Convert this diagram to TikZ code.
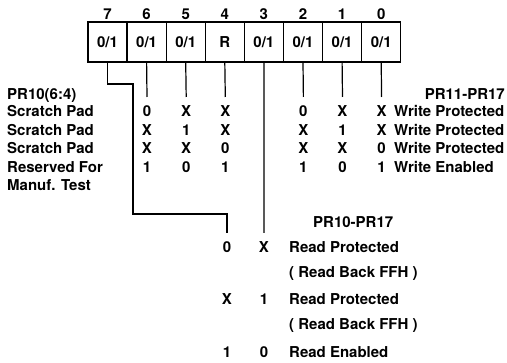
\documentclass[tikz,border=0pt]{standalone}
\usepackage{fontspec}
\setmainfont{TeX Gyre Heros}
\usetikzlibrary{positioning}
\tikzset{
  cell/.style={rectangle, draw, line width=1.3pt, minimum width=39.1pt, minimum height=40pt,
               inner sep=0pt, outer sep=0pt, font=\bfseries\fontsize{15}{17}\selectfont,
               text height=10.8pt, text depth=0pt},
  txt/.style={inner sep=0pt, font=\bfseries\fontsize{15}{17}\selectfont,
              text height=10.8pt, text depth=0pt},
  lbl/.style={txt, anchor=west},
  wire/.style={line width=1.2pt},
}

\begin{document}
\begin{tikzpicture}[x=1pt, y=-1pt]
\useasboundingbox (0,0) rectangle (507,363);
% register cells
\node[cell] (c7) at (107.5,42) {0/1};
\node[cell, right=0pt of c7] (c6) {0/1};
\node[cell, right=0pt of c6] (c5) {0/1};
\node[cell, right=0pt of c5] (c4) {R};
\node[cell, right=0pt of c4] (c3) {0/1};
\node[cell, right=0pt of c3] (c2) {0/1};
\node[cell, right=0pt of c2] (c1) {0/1};
\node[cell, right=0pt of c1] (c0) {0/1};
% bit numbers
\node[txt, above=2.5pt of c7] (n7) {7};
\node[txt, above=2.5pt of c6] (n6) {6};
\node[txt, above=2.5pt of c5] (n5) {5};
\node[txt, above=2.5pt of c4] (n4) {4};
\node[txt, above=2.5pt of c3] (n3) {3};
\node[txt, above=2.5pt of c2] (n2) {2};
\node[txt, above=2.5pt of c1] (n1) {1};
\node[txt, above=2.5pt of c0] (n0) {0};

% wire ends
\coordinate (k7a) at (133,84);
\coordinate (k7b) at (133,214);
\coordinate (e7) at (227,233);
\coordinate (e3) at (264,233);
\coordinate (e6) at (147,97);
\coordinate (e5) at (186.2,97);
\coordinate (e4) at (225.3,97);
\coordinate (e2) at (303.4,97);
\coordinate (e1) at (342.5,97);
\coordinate (e0) at (381.6,97);
\draw[wire] (c7.south) |- (k7a) -- (k7b) -| (e7);
\draw[wire] (c6.south) -- (e6);
\draw[wire] (c5.south) -- (e5);
\draw[wire] (c4.south) -- (e4);
\draw[wire] (c3.south) -- (e3);
\draw[wire] (c2.south) -- (e2);
\draw[wire] (c1.south) -- (e1);
\draw[wire] (c0.south) -- (e0);

% PR10(6:4) table
\node[lbl] (h1) at (7,94) {PR10(6:4)};
\node[lbl] (l1) at (7,111.5) {Scratch Pad};
\node[lbl] (l2) at (7,130) {Scratch Pad};
\node[lbl] (l3) at (7,148.5) {Scratch Pad};
\node[lbl] (l4) at (7,167) {Reserved For};
\node[lbl] (l5) at (7,185.5) {Manuf. Test};
\node[txt] (v61) at (147,111.5) {0};
\node[txt] (v51) at (186.2,111.5) {X};
\node[txt] (v41) at (225.3,111.5) {X};
\node[txt] (v62) at (147,130) {X};
\node[txt] (v52) at (186.2,130) {1};
\node[txt] (v42) at (225.3,130) {X};
\node[txt] (v63) at (147,148.5) {X};
\node[txt] (v53) at (186.2,148.5) {X};
\node[txt] (v43) at (225.3,148.5) {0};
\node[txt] (v64) at (147,167) {1};
\node[txt] (v54) at (186.2,167) {0};
\node[txt] (v44) at (225.3,167) {1};

% PR11-PR17 table
\node[txt, anchor=east] (h2) at (505,94) {PR11-PR17};
\node[txt] (v21) at (303.4,111.5) {0};
\node[txt] (v11) at (342.5,111.5) {X};
\node[txt] (v01) at (381.6,111.5) {X};
\node[txt] (v22) at (303.4,130) {X};
\node[txt] (v12) at (342.5,130) {1};
\node[txt] (v02) at (381.6,130) {X};
\node[txt] (v23) at (303.4,148.5) {X};
\node[txt] (v13) at (342.5,148.5) {X};
\node[txt] (v03) at (381.6,148.5) {0};
\node[txt] (v24) at (303.4,167) {1};
\node[txt] (v14) at (342.5,167) {0};
\node[txt] (v04) at (381.6,167) {1};
\node[lbl] (w1) at (394,111.5) {Write Protected};
\node[lbl] (w2) at (394,130) {Write Protected};
\node[lbl] (w3) at (394,148.5) {Write Protected};
\node[lbl] (w4) at (394,167) {Write Enabled};

% PR10-PR17 table
\node[lbl] (h3) at (313,222) {PR10-PR17};
\node[txt] (u71) at (227,247) {0};
\node[txt] (u31) at (264,247) {X};
\node[lbl] (r1) at (289,247) {Read Protected};
\node[lbl] (r1b) at (289,272) {( Read Back FFH )};
\node[txt] (u72) at (227,299) {X};
\node[txt] (u32) at (264,299) {1};
\node[lbl] (r2) at (289,299) {Read Protected};
\node[lbl] (r2b) at (289,324) {( Read Back FFH )};
\node[txt] (u73) at (227,352.5) {1};
\node[txt] (u33) at (264,352.5) {0};
\node[lbl] (r3) at (289,352.5) {Read Enabled};
\end{tikzpicture}
\end{document}
